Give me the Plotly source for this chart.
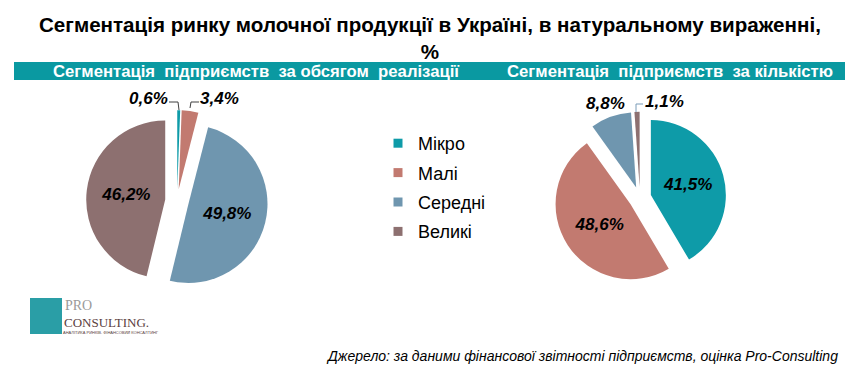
import plotly.graph_objects as go

labels = ["Мікро", "Малі", "Середні", "Великі"]
volume_share = [0.6, 3.4, 49.8, 46.2]
count_share = [41.5, 48.6, 8.8, 1.1]
colors = ["#0E9BA8", "#C27A70", "#6F96AF", "#8D7070"]

title_text = "Сегментація ринку молочної продукції в Україні, в натуральному вираженні,<br>%"
left_title = "Сегментація  підприємств  за обсягом  реалізації"
right_title = "Сегментація  підприємств  за кількістю"
source_text = "Джерело: за даними фінансової звітності підприємств, оцінка Pro-Consulting"

# page body has an 8px margin: figure fills the rest of the window
OFF = 8
W, H = 859 - OFF, 385 - OFF


def px(X):
    return (X - OFF) / W


def py(Y):
    return 1 - (Y - OFF) / H


def fmt(v):
    return f"{v:.1f}%".replace(".", ",")


PULL = 0.15


def domain(cx, cy, r):
    half = r * (1 + PULL)
    return dict(x=[px(cx - half), px(cx + half)], y=[py(cy + half), py(cy - half)])


label_font = dict(family="Liberation Sans", size=17, color="black")


def pie(values, dom, positions):
    return go.Pie(
        labels=labels, values=values,
        text=[fmt(v) for v in values], textinfo="text",
        textposition=positions,
        sort=False, direction="clockwise", rotation=0,
        pull=[PULL] * 4,
        marker=dict(colors=colors, line=dict(color="white", width=0)),
        insidetextfont=label_font, outsidetextfont=label_font,
        texttemplate=["<b><i>%{text}</i></b>" if p != "none" else "" for p in positions],
        domain=dom,
        showlegend=False, hoverinfo="label+text",
    )


fig = go.Figure()
fig.add_trace(pie(volume_share, domain(177, 201, 79), ["none", "none", "inside", "inside"]))
fig.add_trace(pie(count_share, domain(640, 198, 75), ["inside", "inside", "none", "none"]))

for i, lab in enumerate(labels):
    fig.add_trace(go.Scatter(
        x=[None], y=[None], mode="markers", name=lab,
        marker=dict(symbol="square", size=9, color=colors[i]),
        legendgroup=lab, showlegend=True, hoverinfo="skip",
    ))

fig.update_layout(
    width=W, height=H,
    margin=dict(l=0, r=0, t=0, b=0),
    paper_bgcolor="white", plot_bgcolor="white",
    xaxis=dict(visible=False), yaxis=dict(visible=False),
    legend=dict(x=(370) / W, y=1 - 117 / H, xanchor="left", yanchor="top",
                font=dict(family="Liberation Sans", size=18, color="black"),
                tracegroupgap=3, traceorder="grouped", itemwidth=30,
                bgcolor="rgba(0,0,0,0)"),
    font=dict(family="Liberation Sans"),
)

# band
fig.add_shape(type="rect", xref="paper", yref="paper",
              x0=px(14), x1=px(845), y0=py(80), y1=py(62),
              fillcolor="#0A99A1", line=dict(width=0), layer="below")


def note(text, X, Y, size, color="black", xanchor="center", family="Liberation Sans"):
    fig.add_annotation(text=text, xref="paper", yref="paper", x=px(X), y=py(Y),
                       xanchor=xanchor, yanchor="middle", showarrow=False,
                       font=dict(family=family, size=size, color=color))


fig.add_annotation(text=f"<b>{title_text}</b>", xref="paper", yref="paper",
                   x=px(430), y=py(11), xanchor="center", yanchor="top",
                   showarrow=False, font=dict(family="Liberation Sans", size=20.6, color="black"))
note(f"<b>{left_title}</b>", 256, 71, 16.7, "white")
note(f"<b>{right_title}</b>", 670, 71, 16.7, "white")
note(f"<i>{source_text}</i>", 840, 356, 14, xanchor="right")

# small-slice labels with leader lines
note(f"<b><i>{fmt(volume_share[0])}</i></b>", 148, 98, 17)
note(f"<b><i>{fmt(volume_share[1])}</i></b>", 219, 98, 17)
note(f"<b><i>{fmt(count_share[2])}</i></b>", 605, 104, 17)
note(f"<b><i>{fmt(count_share[3])}</i></b>", 664, 102, 17)


def leader(points, color):
    path = "M " + " L ".join(f"{px(x)},{py(y)}" for x, y in points)
    fig.add_shape(type="path", xref="paper", yref="paper", path=path,
                  line=dict(color=color, width=1))


leader([(169, 102), (178, 102), (179, 110)], "#404040")
leader([(199, 102), (191, 102), (190, 108)], "#404040")
leader([(636, 112), (636, 104), (643, 104)], "#7A9CB8")

# logo
fig.add_shape(type="rect", xref="paper", yref="paper",
              x0=px(30), x1=px(62), y0=py(334), y1=py(298),
              fillcolor="#2A9EA6", line=dict(width=0))
note("PRO", 63, 305, 14, "#9A9A9A", "left", "Liberation Serif")
note("CONSULTING.", 62, 322, 13, "#5A4040", "left", "Liberation Serif")
note("АНАЛІТИКА РИНКІВ. ФІНАНСОВИЙ КОНСАЛТИНГ", 61, 332, 4, "#5A4040", "left")

fig.write_html("out.html")
